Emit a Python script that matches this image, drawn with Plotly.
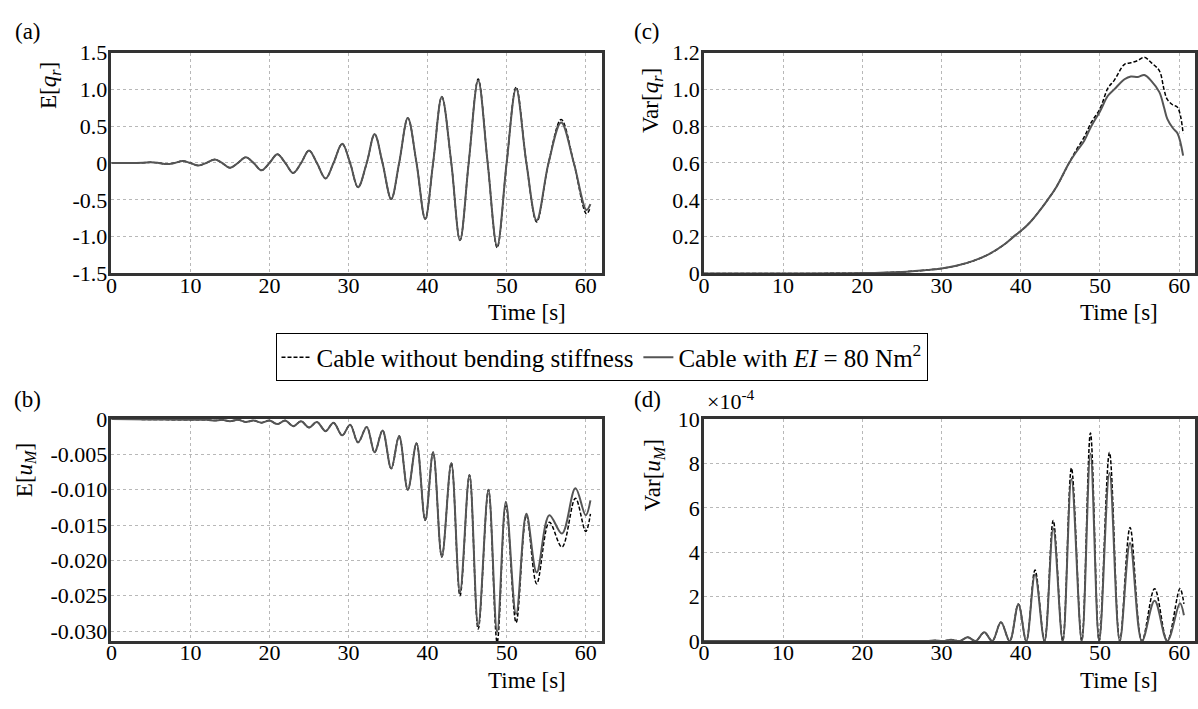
import plotly.graph_objects as go

# ---------------- data ----------------
# (a) E[q_r]
t_a = [0, 2, 4, 5, 6, 7, 8, 9, 10, 11, 12, 13.1, 14, 15.0, 16, 17.0, 18, 19.0, 20, 21.0,
       22, 23.0, 24, 25.0, 26.0, 27.1, 28.1, 29.2, 30.2, 31.2, 32.3, 33.3, 34.3, 35.4, 36.4, 37.5, 38.6, 39.7, 40.7, 41.8,
       43.0, 44.1, 45.2, 46.4, 47.6, 48.8, 50.0, 51.2, 52.5, 53.8, 55.3, 56.9, 58.5, 60.1, 60.6]
Eq_dash = [0, 0, 0.004, 0.01, 0, -0.015, 0, 0.026, 0, -0.035, 0, 0.048, 0, -0.065, 0, 0.078, 0, -0.10, 0, 0.12,
           0, -0.135, 0, 0.17, 0, -0.21, 0, 0.26, 0, -0.33, 0, 0.39, 0, -0.49, 0, 0.61, 0, -0.76, 0, 0.90,
           0, -1.05, 0, 1.14, 0, -1.15, 0, 1.03, 0, -0.80, 0, 0.59, 0, -0.69, -0.60]
Eq_solid = [0, 0, 0.004, 0.01, 0, -0.015, 0, 0.026, 0, -0.035, 0, 0.048, 0, -0.065, 0, 0.078, 0, -0.10, 0, 0.12,
            0, -0.135, 0, 0.17, 0, -0.21, 0, 0.26, 0, -0.33, 0, 0.39, 0, -0.49, 0, 0.61, 0, -0.76, 0, 0.90,
            0, -1.05, 0, 1.12, 0, -1.13, 0, 1.01, 0, -0.78, 0, 0.55, 0, -0.64, -0.56]

# (c) Var[q_r]
t_c = [0, 10, 20, 25, 28, 30, 32, 34, 36, 38, 39.1, 40, 41, 42, 43.4, 44.5, 46.1, 47, 48, 48.9,
       50.0, 51.0, 51.8, 53.1, 53.9, 54.8, 55.6, 56.5, 57.5, 58.1, 58.5, 59.2, 59.8, 60.5]
Vq_dash = [0, 0, 0.002, 0.008, 0.018, 0.027, 0.043, 0.068, 0.105, 0.16, 0.2, 0.23, 0.27, 0.32, 0.40, 0.47, 0.60, 0.67, 0.74, 0.82,
           0.894, 1.006, 1.049, 1.136, 1.144, 1.157, 1.174, 1.144, 1.101, 0.997, 0.945, 0.915, 0.902, 0.76]
Vq_solid = [0, 0, 0.002, 0.008, 0.018, 0.027, 0.043, 0.068, 0.105, 0.16, 0.2, 0.23, 0.27, 0.32, 0.40, 0.47, 0.60, 0.66, 0.72, 0.80,
            0.88, 0.965, 1.0, 1.055, 1.07, 1.067, 1.078, 1.045, 0.985, 0.90, 0.84, 0.79, 0.76, 0.64]

# (b) E[u_M]
t_b = [0, 5, 10, 12, 13.1, 14, 15.0, 16, 17.0, 18, 19.0, 20, 21.0, 22.0, 23.0, 24.0, 25.0, 26.0, 27.1, 28.1,
       29.2, 30.2, 31.2, 32.3, 33.3, 34.3, 35.4, 36.4, 37.5, 38.6, 39.7, 40.7, 41.8, 43.0, 44.1, 45.3, 46.4, 47.7, 48.8, 49.9,
       51.2, 52.5, 53.8, 55.4, 57.0, 58.7, 60.0, 60.6]
Eu_dash = [0, -0.00005, -0.0001, -0.0001, -0.0002, -0.0001, -0.0003, -0.0001, -0.0004, -0.0002,
           -0.0005, -0.0002, -0.0007, -0.0002, -0.0010, -0.0003, -0.0012, -0.0004, -0.0017, -0.0005,
           -0.0023, -0.0008, -0.0033, -0.0011, -0.0047, -0.0016, -0.0070, -0.0024, -0.0100, -0.0034,
           -0.0143, -0.0047, -0.0195, -0.0062, -0.0250, -0.0079, -0.0297, -0.0100, -0.0316, -0.0120,
           -0.0288, -0.0136, -0.0233, -0.0146, -0.0181, -0.0112, -0.0159, -0.0134]
Eu_solid = [0, -0.00005, -0.0001, -0.0001, -0.0002, -0.0001, -0.0003, -0.0001, -0.0004, -0.0002,
            -0.0005, -0.0002, -0.0007, -0.0002, -0.0010, -0.0003, -0.0012, -0.0004, -0.0017, -0.0005,
            -0.0023, -0.0008, -0.0033, -0.0011, -0.0047, -0.0016, -0.0070, -0.0024, -0.0100, -0.0034,
            -0.0143, -0.0047, -0.0195, -0.0062, -0.0245, -0.0079, -0.0293, -0.0100, -0.0301, -0.0117,
            -0.0276, -0.0134, -0.0217, -0.0136, -0.0162, -0.0098, -0.0136, -0.0115]

# (d) Var[u_M]  (in units of 1e-4)
t_d = [0, 10, 20, 25, 28.1, 29.2, 30.2, 31.2, 32.3, 33.3, 34.3, 35.4, 36.4, 37.5, 38.6, 39.7, 40.7, 41.8, 43.0, 44.1,
       45.3, 46.4, 47.7, 48.8, 49.9, 51.2, 52.5, 53.8, 55.3, 56.9, 58.5, 60.1, 60.6]
Vu_dash = [0, 0, 0, 0, 0, 0.02, 0, 0.06, 0, 0.17, 0, 0.39, 0, 0.84, 0, 1.67, 0, 3.2, 0, 5.43,
           0, 7.8, 0, 9.38, 0, 8.5, 0, 5.12, 0, 2.36, 0, 2.36, 1.67]
Vu_solid = [0, 0, 0, 0, 0, 0.02, 0, 0.06, 0, 0.17, 0, 0.39, 0, 0.84, 0, 1.65, 0, 3.0, 0, 5.07,
            0, 7.3, 0, 8.45, 0, 7.57, 0, 4.42, 0, 1.81, 0, 1.7, 1.16]

# tick labels
x_ticks = [0, 10, 20, 30, 40, 50, 60]
a_tickvals = [1.5, 1.0, 0.5, 0, -0.5, -1.0, -1.5]
a_ticktext = ["1.5", "1.0", "0.5", "0", "-0.5", "-1.0", "-1.5"]
c_tickvals = [1.2, 1.0, 0.8, 0.6, 0.4, 0.2, 0]
c_ticktext = ["1.2", "1.0", "0.8", "0.6", "0.4", "0.2", "0"]
b_tickvals = [0, -0.005, -0.010, -0.015, -0.020, -0.025, -0.030]
b_ticktext = ["0", "-0.005", "-0.010", "-0.015", "-0.020", "-0.025", "-0.030"]
d_tickvals = [10, 8, 6, 4, 2, 0]
d_ticktext = ["10", "8", "6", "4", "2", "0"]

name_dash = "Cable without bending stiffness"
name_solid = "Cable with <i>EI</i> = 80 Nm<sup>2</sup>"

# ---------------- layout helpers ----------------
W, H = 1198, 709
FONT = "Liberation Serif, Times New Roman, serif"


def fx(p):
    return p / W


def fy(p):
    return 1 - p / H


left_dom = [fx(106), fx(599)]
right_dom = [fx(702), fx(1196)]
top_dom = [fy(271), fy(42)]
bot_dom = [fy(652), fy(422)]

dash_line = dict(color="black", width=1.5, dash="4px,2px", shape="spline", smoothing=1.0)
solid_line = dict(color="#555555", width=2, shape="spline", smoothing=1.0)

fig = go.Figure()
panels = [
    ("x", "y", t_a, Eq_dash, Eq_solid, True),
    ("x2", "y2", t_c, Vq_dash, Vq_solid, False),
    ("x3", "y3", t_b, Eu_dash, Eu_solid, False),
    ("x4", "y4", t_d, Vu_dash, Vu_solid, False),
]
for xa, ya, t, d, s, show in panels:
    fig.add_trace(go.Scatter(x=t, y=d, mode="lines", line=dash_line, name=name_dash,
                             showlegend=show, xaxis=xa, yaxis=ya, hoverinfo="skip"))
    fig.add_trace(go.Scatter(x=t, y=s, mode="lines", line=solid_line, name=name_solid,
                             showlegend=show, xaxis=xa, yaxis=ya, hoverinfo="skip"))

axis_common = dict(showline=True, mirror=True, linecolor="#333333", linewidth=2.5,
                   showgrid=True, gridcolor="#b8b8b8", gridwidth=1, griddash="3px,3px",
                   zeroline=False, ticks="", tickfont=dict(family=FONT, size=22, color="black"))

def xax(domain, anchor):
    return dict(axis_common, domain=domain, anchor=anchor, range=[0, 62],
                tickvals=x_ticks, ticktext=[str(v) for v in x_ticks], ticklabelstandoff=-10)

def yax(domain, anchor, rng, tv, tt):
    return dict(axis_common, domain=domain, anchor=anchor, range=rng,
                tickvals=tv, ticktext=tt, ticklabelstandoff=-3)

fig.update_layout(
    width=W, height=H,
    margin=dict(l=0, r=0, t=0, b=0),
    paper_bgcolor="white", plot_bgcolor="white",
    font=dict(family=FONT, color="black"),
    xaxis=xax(left_dom, "y"),
    yaxis=yax(top_dom, "x", [-1.5, 1.5], a_tickvals, a_ticktext),
    xaxis2=xax(right_dom, "y2"),
    yaxis2=yax(top_dom, "x2", [0, 1.2], c_tickvals, c_ticktext),
    xaxis3=xax(left_dom, "y3"),
    yaxis3=yax(bot_dom, "x3", [-0.0314, 0], b_tickvals, b_ticktext),
    xaxis4=xax(right_dom, "y4"),
    yaxis4=yax(bot_dom, "x4", [0, 10], d_tickvals, d_ticktext),
    legend=dict(orientation="h", x=fx(599), xanchor="center", y=fy(358), yanchor="middle",
                bordercolor="black", borderwidth=1, bgcolor="white",
                font=dict(family=FONT, size=25, color="black"), itemwidth=30,
                traceorder="normal"),
)

def ann(text, px, py, size=23, angle=0, xanchor="center"):
    fig.add_annotation(text=text, x=fx(px), y=fy(py), xref="paper", yref="paper",
                       showarrow=False, textangle=angle, xanchor=xanchor, yanchor="middle",
                       font=dict(family=FONT, size=size, color="black"))

# panel letters
ann("(a)", 22, 20)
ann("(c)", 645, 20)
ann("(b)", 22, 402)
ann("(d)", 645, 402)
# y labels
ann("E[<i>q</i><sub><i>r</i></sub>]", 45, 76, angle=-90)
ann("Var[<i>q</i><sub><i>r</i></sub>]", 650, 92, angle=-90)
ann("E[<i>u</i><sub><i>M</i></sub>]", 20, 475, angle=-90)
ann("Var[<i>u</i><sub><i>M</i></sub>]", 652, 480, angle=-90)
# x labels
ann("Time [s]", 524, 312)
ann("Time [s]", 1120, 312)
ann("Time [s]", 524, 693)
ann("Time [s]", 1120, 693)
# exponent
ann("\u00d710<sup>-4</sup>", 703, 402, size=22, xanchor="left")

fig.write_html(
    "out.html",
    config={"displayModeBar": False},
    post_script="document.body.style.margin='0';document.body.style.overflow='hidden';"
                "document.documentElement.style.overflow='hidden';",
)
